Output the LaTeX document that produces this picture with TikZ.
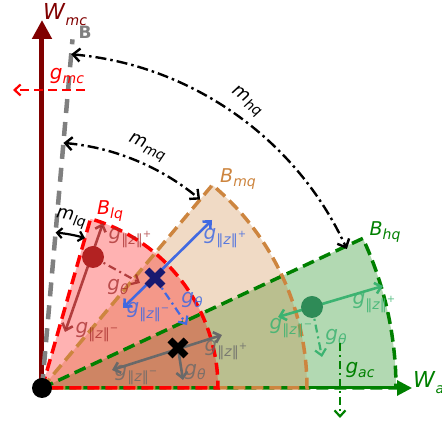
\documentclass[tikz,border=0pt]{standalone}
\usepackage{fontspec}
\setmainfont{DejaVu Sans}
\usetikzlibrary{arrows.meta}
\definecolor{maroonA}{RGB}{128,0,0}
\definecolor{peruA}{RGB}{205,133,63}
\definecolor{greenA}{RGB}{0,128,0}
\definecolor{redA}{RGB}{255,0,0}
\definecolor{firebrickA}{RGB}{178,34,34}
\definecolor{brownA}{RGB}{165,42,42}
\definecolor{royalA}{RGB}{65,105,225}
\definecolor{navyA}{RGB}{25,25,112}
\definecolor{dimgrayA}{RGB}{105,105,105}
\definecolor{seagreenA}{RGB}{46,139,87}
\definecolor{mseagreenA}{RGB}{60,179,113}
\definecolor{grayA}{RGB}{128,128,128}
\newcommand\gzp{\textit{g}\raisebox{-0.45ex}{\fontsize{14}{14}\selectfont ‖\textit{z}‖\raisebox{0.9ex}{\fontsize{10}{10}\selectfont +}}}
\newcommand\gzm{\textit{g}\raisebox{-0.45ex}{\fontsize{14}{14}\selectfont ‖\textit{z}‖\raisebox{0.9ex}{\fontsize{10}{10}\selectfont −}}}
\newcommand\gth{\textit{g}\raisebox{-0.45ex}{\fontsize{14}{14}\selectfont\textit{θ}}}
\newcommand\lbsub[2]{\textit{#1}\raisebox{-0.45ex}{\fontsize{14}{14}\selectfont\textit{#2}}}
\tikzset{
  sect/.style={line width=3.5pt, dash pattern=on 12pt off 6pt},
  sfill/.style={fill opacity=0.3},
  lbl/.style={inner sep=0pt, font=\fontsize{20}{20}\selectfont},
  blbl/.style={inner sep=0pt, font=\fontsize{19}{19}\selectfont},
  mlbl/.style={inner sep=0pt, font=\fontsize{18}{18}\selectfont},
  barb/.style={line width=2.6pt, {Straight Barb[length=6pt,width=11pt]}-{Straight Barb[length=6pt,width=11pt]}},
  onebarb/.style={line width=2.6pt, -{Straight Barb[length=6pt,width=11pt]}},
  dd/.style={line width=2.2pt, dash pattern=on 8pt off 4pt on 2pt off 4pt, -{Straight Barb[length=6pt,width=11pt]}},
  marc/.style={line width=2.4pt, dash pattern=on 11pt off 4pt on 2.5pt off 4pt, {Straight Barb[length=7pt,width=13pt]}-{Straight Barb[length=7pt,width=13pt]}},
  xm/.style={line width=7pt},
}
\begin{document}
\begin{tikzpicture}[x=1pt,y=1pt]
\useasboundingbox (-42,-34) rectangle (400,388);
\coordinate (O) at (0,0);
% axes
\coordinate (Wtop) at (0,368);
\coordinate (Wright) at (370,0);
\draw[maroonA, line width=5pt, -{Triangle[length=19pt,width=19pt]}] (O) -- (Wtop);
\draw[greenA, line width=3pt, -{Triangle[length=15pt,width=15pt]}] (O) -- (Wright);
\node[lbl, anchor=base west, maroonA, font=\fontsize{22}{22}\selectfont] (Wmc) at (1,368) {\lbsub{W}{mc}};
\node[lbl, anchor=base west, greenA, font=\fontsize{22}{22}\selectfont] (Wa) at (371,0) {\lbsub{W}{a}};
% sectors
\fill[greenA, sfill] (O) -- (25:354pt) arc[start angle=25, end angle=0, radius=354pt] -- cycle;
\fill[peruA, sfill] (O) -- (50:265pt) arc[start angle=50, end angle=0, radius=265pt] -- cycle;
\fill[redA, sfill] (O) -- (74:176pt) arc[start angle=74, end angle=0, radius=176pt] -- cycle;
\draw[sect, greenA] (O) -- (25:354pt) arc[start angle=25, end angle=0, radius=354pt] -- cycle;
\draw[sect, peruA] (O) -- (50:265pt) arc[start angle=50, end angle=0, radius=265pt] -- cycle;
\draw[sect, redA] (O) -- (74:176pt) arc[start angle=74, end angle=0, radius=176pt] -- cycle;
\node[blbl, redA] (Blq) at (68,177) {\lbsub{B}{lq}};
\node[blbl, peruA] (Bmq) at (196,209) {\lbsub{B}{mq}};
\node[blbl, greenA] (Bhq) at (343,156) {\lbsub{B}{hq}};
% boundary B
\coordinate (Btop) at (85:350pt);
\draw[grayA, line width=4.5pt, dash pattern=on 14pt off 9pt] (O) -- (Btop);
\node[inner sep=0pt, grayA, font=\fontsize{17}{17}\selectfont\bfseries] (Bl) at (43,356) {B};
% g_mc
\coordinate (gmcA) at (43,298);
\coordinate (gmcB) at (-29,298);
\draw[redA, line width=2.2pt, dash pattern=on 9pt off 5pt, -{Straight Barb[length=6pt,width=11pt]}] (gmcA) -- (gmcB);
\node[lbl, redA] (gmc) at (25,312) {\lbsub{g}{mc}};
% m arcs
\coordinate (hqA) at (85:335pt);
\draw[marc] (hqA) arc[start angle=85, end angle=24.5, radius=335pt];
\node[mlbl, rotate=-36] (mhq) at (205,286) {\lbsub{m}{hq}};
\coordinate (mqA) at (85:246pt);
\draw[marc] (mqA) arc[start angle=85, end angle=50, radius=246pt];
\node[mlbl, rotate=-23] (mmq) at (105,240) {\lbsub{m}{mq}};
\coordinate (lqA) at (85:156pt);
\draw[line width=2.2pt, {Straight Barb[length=5pt,width=10pt]}-{Straight Barb[length=5pt,width=10pt]}] (lqA) arc[start angle=85, end angle=74, radius=156pt];
\node[mlbl, rotate=-10] (mlq) at (29,169) {\lbsub{m}{lq}};
% red point
\coordinate (rp) at (51,131);
\coordinate (rpu) at (61,165);
\coordinate (rpd) at (23,56);
\coordinate (rpt) at (98,105);
\draw[barb, brownA, opacity=0.85] (rpd) -- (rpu);
\draw[dd, brownA, opacity=0.85] (rp) -- (rpt);
\fill[firebrickA] (rp) circle (11pt);
\node[lbl, brownA, opacity=0.75] (r1) at (88,150) {\gzp};
\node[lbl, brownA, opacity=0.75] (r2) at (76,101) {\gth};
\node[lbl, brownA, opacity=0.75] (r3) at (55,56) {\gzm};
% blue X
\coordinate (bp) at (113,110);
\coordinate (bpu) at (170,168);
\coordinate (bpd) at (81,80);
\coordinate (bpt) at (145,63);
\draw[barb, royalA] (bpd) -- (bpu);
\draw[dd, royalA] (bp) -- (bpt);
\draw[xm, navyA] ([shift={(-8,-8)}]bp) -- ([shift={(8,8)}]bp) ([shift={(-8,8)}]bp) -- ([shift={(8,-8)}]bp);
\node[lbl, royalA, opacity=0.85] (b1) at (183,150) {\gzp};
\node[lbl, royalA, opacity=0.85] (b2) at (106,76) {\gzm};
\node[lbl, royalA, opacity=0.85] (b3) at (150,88) {\gth};
% black X
\coordinate (kp) at (136,40);
\coordinate (kpu) at (180,53);
\coordinate (kpd) at (70,18);
\coordinate (kpt) at (141,8);
\draw[barb, dimgrayA] (kpd) -- (kpu);
\draw[onebarb, dimgrayA] (kp) -- (kpt);
\draw[xm, black] ([shift={(-8,-8)}]kp) -- ([shift={(8,8)}]kp) ([shift={(-8,8)}]kp) -- ([shift={(8,-8)}]kp);
\node[lbl, dimgrayA, opacity=0.8] (k1) at (184,38) {\gzp};
\node[lbl, dimgrayA, opacity=0.8] (k2) at (94,13) {\gzm};
\node[lbl, dimgrayA, opacity=0.8] (k3) at (153,16) {\gth};
% green point
\coordinate (gp) at (270,81);
\coordinate (gpu) at (341,102);
\coordinate (gpd) at (236,71);
\coordinate (gpt) at (280,31);
\draw[barb, mseagreenA] (gpd) -- (gpu);
\draw[dd, mseagreenA] (gp) -- (gpt);
\fill[seagreenA] (gp) circle (11pt);
\node[lbl, mseagreenA, opacity=0.85] (g1) at (332,85) {\gzp};
\node[lbl, mseagreenA, opacity=0.85] (g2) at (249,60) {\gzm};
\node[lbl, mseagreenA, opacity=0.85] (g3) at (294,51) {\gth};
% g_ac
\coordinate (gacA) at (298,45);
\coordinate (gacB) at (298,-30);
\draw[dd, greenA] (gacA) -- (gacB);
\node[lbl, greenA] (gac) at (318,18) {\lbsub{g}{ac}};
% origin
\fill[black] (O) circle (10pt);
\end{tikzpicture}
\end{document}
